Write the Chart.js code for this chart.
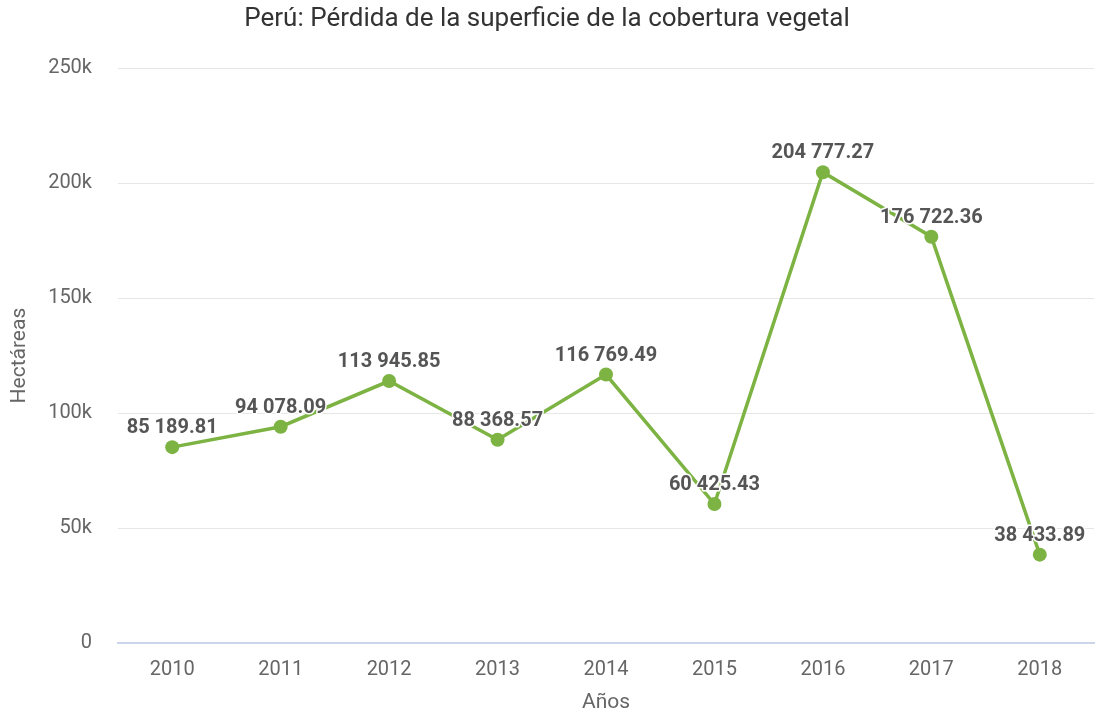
<!DOCTYPE html>
<html>
<head>
<meta charset="utf-8">
<script src="https://cdn.jsdelivr.net/npm/chart.js@4/dist/chart.umd.min.js"></script>
<style>
  html, body { margin: 0; padding: 0; background: #ffffff; }
  #wrap { width: 1096px; height: 717px; }
</style>
</head>
<body>
<div id="wrap"><canvas id="c" width="1096" height="717"></canvas></div>
<script>
const years = ['2010', '2011', '2012', '2013', '2014', '2015', '2016', '2017', '2018'];
const hectareas = [85189.81, 94078.09, 113945.85, 88368.57, 116769.49, 60425.43, 204777.27, 176722.36, 38433.89];
const yTicks = [0, 50000, 100000, 150000, 200000, 250000];

const chartTitle = 'Perú: Pérdida de la superficie de la cobertura vegetal';
const yTitle = 'Hectáreas';
const xTitle = 'Años';

// "85 189.81" style: space as thousands separator, two decimals
function fmt(v) {
  const [int, dec] = v.toFixed(2).split('.');
  return int.replace(/\B(?=(\d{3})+(?!\d))/g, ' ') + '.' + dec;
}
function fmtTick(v) {
  return v === 0 ? '0' : (v / 1000) + 'k';
}

// Value labels above each point, with a white halo
const valueLabels = {
  id: 'valueLabels',
  afterDatasetsDraw(chart) {
    const ctx = chart.ctx;
    const meta = chart.getDatasetMeta(0);
    ctx.save();
    ctx.font = 'bold 20px Roboto';
    ctx.textAlign = 'center';
    ctx.textBaseline = 'middle';
    ctx.lineJoin = 'round';
    meta.data.forEach((pt, i) => {
      const txt = fmt(chart.data.datasets[0].data[i]);
      const x = pt.x, y = pt.y - 19;
      ctx.strokeStyle = '#ffffff';
      ctx.lineWidth = 3;
      ctx.strokeText(txt, x, y);
      ctx.fillStyle = '#555555';
      ctx.fillText(txt, x, y);
    });
    ctx.restore();
  }
};

new Chart(document.getElementById('c'), {
  type: 'line',
  data: {
    labels: years,
    datasets: [{
      data: hectareas,
      borderColor: '#7cb342',
      backgroundColor: '#7cb342',
      borderWidth: 3.5,
      pointRadius: 7,
      pointHoverRadius: 7,
      pointBackgroundColor: '#7cb342',
      pointBorderWidth: 0,
      tension: 0,
      fill: false
    }]
  },
  options: {
    responsive: false,
    animation: false,
    layout: { autoPadding: false, padding: { left: 0, right: 2, top: 0, bottom: 0 } },
    plugins: {
      legend: { display: false },
      tooltip: { enabled: false },
      title: {
        display: true,
        text: chartTitle,
        color: '#333333',
        font: { family: 'Roboto', size: 26, weight: 'normal' },
        padding: { top: 4, bottom: 33 }
      }
    },
    scales: {
      x: {
        offset: true,
        grid: { display: false, drawTicks: false },
        border: { display: true, color: '#ccd6eb', width: 2 },
        ticks: {
          color: '#666666',
          font: { family: 'Roboto', size: 20 },
          padding: 15,
          maxRotation: 0
        },
        title: {
          display: true,
          text: xTitle,
          color: '#666666',
          font: { family: 'Roboto', size: 21 },
          padding: { top: 2, bottom: 2 }
        },
        afterFit(s) { s.height = 74; }
      },
      y: {
        min: 0,
        max: 250000,
        afterBuildTicks(s) { s.ticks = yTicks.map(v => ({ value: v })); },
        grid: { color: '#e6e6e6', lineWidth: 1, drawTicks: false },
        border: { display: false },
        ticks: {
          color: '#666666',
          font: { family: 'Roboto', size: 20 },
          padding: 26,
          callback: v => fmtTick(v)
        },
        title: {
          display: true,
          text: yTitle,
          color: '#666666',
          font: { family: 'Roboto', size: 21 },
          padding: { top: 7, bottom: 4 }
        },
        afterFit(s) { s.width = 118; }
      }
    }
  },
  plugins: [valueLabels]
});
</script>
</body>
</html>
